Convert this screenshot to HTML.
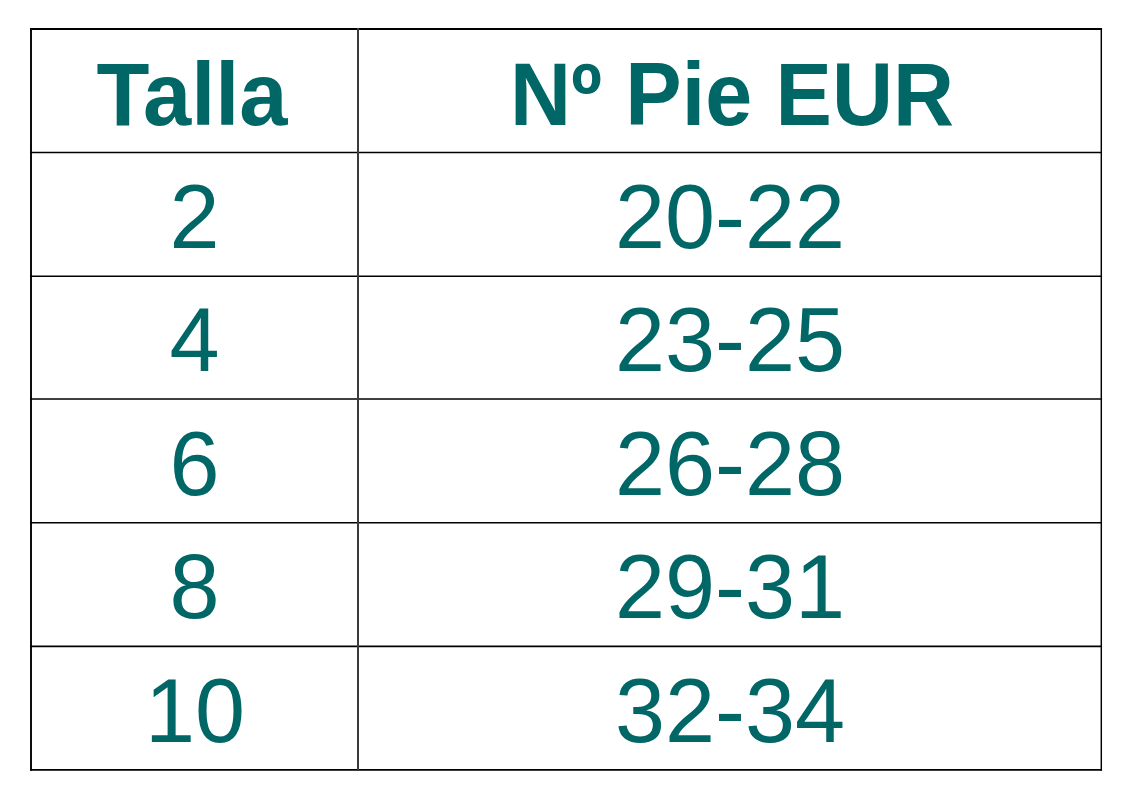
<!DOCTYPE html>
<html lang="es">
<head>
<meta charset="utf-8">
<title>Tabla de tallas</title>
<style>
  html, body { margin: 0; padding: 0; background: #ffffff; }
  body { width: 1130px; height: 803px; overflow: hidden; position: relative; }
  svg { position: absolute; left: 0; top: 0; display: block; }
  text { font-family: "Liberation Sans", sans-serif; font-size: 89px; fill: #006666; text-anchor: middle; }
  text.b { font-weight: bold; }
  text.r { font-weight: normal; font-size: 90px; }
  .grid line { stroke: #000000; }
  table.sem { position: absolute; left: 31px; top: 29px; width: 1070px; height: 741px; border-collapse: collapse; table-layout: fixed;
    font-family: "Liberation Sans", sans-serif; font-size: 89px; line-height: 1; text-align: center; color: transparent; background: transparent; }
  table.sem th, table.sem td { padding: 0; border: 0; height: 123.5px; white-space: nowrap; overflow: hidden; }
  table.sem th:first-child, table.sem td:first-child { width: 327px; }
</style>
</head>
<body>
<svg width="1130" height="803" viewBox="0 0 1130 803" aria-hidden="true">
<rect x="0" y="0" width="1130" height="803" fill="#ffffff"/>
<g class="grid" fill="none">
<line x1="30.05" x2="1102.05" y1="29" y2="29" stroke-width="1.8"/>
<line x1="30.05" x2="1102.05" y1="152.45" y2="152.45" stroke-width="1.6"/>
<line x1="30.05" x2="1102.05" y1="276.2" y2="276.2" stroke-width="1.55"/>
<line x1="30.05" x2="1102.05" y1="399" y2="399" stroke-width="1.7"/>
<line x1="30.05" x2="1102.05" y1="522.66" y2="522.66" stroke-width="1.55"/>
<line x1="30.05" x2="1102.05" y1="646.35" y2="646.35" stroke-width="1.65"/>
<line x1="30.05" x2="1102.05" y1="769.95" y2="769.95" stroke-width="1.8"/>
<line x1="31" x2="31" y1="28.1" y2="770.85" stroke-width="1.9" style="stroke:#000000"/>
<line x1="358" x2="358" y1="28.1" y2="770.85" stroke-width="2.0" style="stroke:#3a3a3a"/>
<line x1="1101.3" x2="1101.3" y1="28.1" y2="770.85" stroke-width="1.45" style="stroke:#000000"/>
</g>
<g class="hdr">
<text class="b" x="192" y="125" textLength="191" lengthAdjust="spacingAndGlyphs">Talla</text>
<text class="b" x="732" y="125" textLength="444" lengthAdjust="spacingAndGlyphs">Nº Pie EUR</text>
</g>
<g class="dat">
<text class="r" x="194.5" y="248">2</text>
<text class="r" x="730" y="248">20-22</text>
<text class="r" x="194.5" y="371">4</text>
<text class="r" x="730" y="371">23-25</text>
<text class="r" x="194.5" y="495">6</text>
<text class="r" x="730" y="495">26-28</text>
<text class="r" x="194.5" y="618">8</text>
<text class="r" x="730" y="618">29-31</text>
<text class="r" x="195" y="742">10</text>
<text class="r" x="730" y="742">32-34</text>
</g>
</svg>
<table class="sem">
<thead><tr><th>Talla</th><th>Nº Pie EUR</th></tr></thead>
<tbody>
<tr><td>2</td><td>20-22</td></tr>
<tr><td>4</td><td>23-25</td></tr>
<tr><td>6</td><td>26-28</td></tr>
<tr><td>8</td><td>29-31</td></tr>
<tr><td>10</td><td>32-34</td></tr>
</tbody>
</table>
</body>
</html>
